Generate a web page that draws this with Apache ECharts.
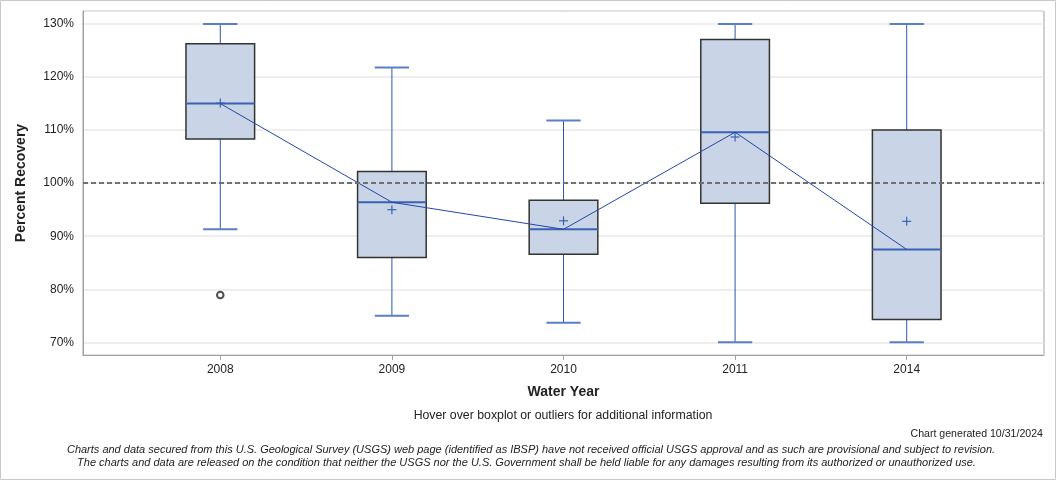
<!DOCTYPE html>
<html><head><meta charset="utf-8">
<script src="https://cdn.jsdelivr.net/npm/echarts@6/dist/echarts.min.js"></script>
<style>html,body{margin:0;padding:0;background:#fff}#c{width:1056px;height:480px}</style>
</head><body><div id="c"></div>
<script>
const categories = ['2008', '2009', '2010', '2011', '2014'];
const whiskerLow = [91.3, 75.0, 73.7, 70.0, 70.0];
const q1 = [108.3, 86.0, 86.6, 96.2, 74.3];
const median = [115.0, 96.4, 91.3, 109.6, 87.5];
const q3 = [126.3, 102.2, 96.8, 127.1, 110.0];
const whiskerHigh = [130.0, 121.8, 111.8, 130.0, 130.0];
const mean = [115.1, 95.0, 92.9, 108.7, 92.8];
const outliers = [[0, 78.9]];
const yTickValues = [70, 80, 90, 100, 110, 120, 130];
const referenceLine = 100;

const FONT = "'Liberation Sans', Arial, sans-serif";
const chart = echarts.init(document.getElementById('c'), null, { renderer: 'canvas' });
const xIdx = categories.map((c, i) => i);
const boxData = xIdx.map(i => [i, whiskerLow[i], q1[i], median[i], q3[i], whiskerHigh[i], mean[i]]);

function renderBox(params, api) {
  const i = api.value(0);
  const pLo = api.coord([i, api.value(1)]);
  const pQ1 = api.coord([i, api.value(2)]);
  const pMed = api.coord([i, api.value(3)]);
  const pQ3 = api.coord([i, api.value(4)]);
  const pHi = api.coord([i, api.value(5)]);
  const pMean = api.coord([i, api.value(6)]);
  const half = api.size([0.4, 0])[0] / 2;
  const cap = api.size([0.2, 0])[0] / 2;
  const x = pMed[0];
  const blue = '#2d56b0';
  const capBlue = '#5a7fc4';
  const line = (x1, y1, x2, y2, stroke, w) => ({
    type: 'line', shape: { x1, y1, x2, y2 }, style: { stroke, lineWidth: w }
  });
  return {
    type: 'group',
    children: [
      line(x, pLo[1], x, pQ1[1], blue, 1),
      line(x, pQ3[1], x, pHi[1], blue, 1),
      line(x - cap, pLo[1], x + cap, pLo[1], capBlue, 2),
      line(x - cap, pHi[1], x + cap, pHi[1], capBlue, 2),
      { type: 'rect', shape: { x: x - half, y: pQ3[1], width: 2 * half, height: pQ1[1] - pQ3[1] },
        style: { fill: '#c9d5e6', stroke: '#333333', lineWidth: 1.5 } },
      line(x - half, pMed[1], x + half, pMed[1], '#3a62b4', 2),
      line(pMean[0] - 4.5, pMean[1], pMean[0] + 4.5, pMean[1], '#3a62b4', 1.2),
      line(pMean[0], pMean[1] - 4.5, pMean[0], pMean[1] + 4.5, '#3a62b4', 1.2)
    ]
  };
}

chart.setOption({
  animation: false,
  grid: { left: 83, right: 12, top: 11, bottom: 125, show: true, borderColor: '#a0a0a0', borderWidth: 1 },
  xAxis: {
    type: 'value', min: -0.8, max: 4.8,
    name: 'Water Year', nameLocation: 'middle', nameGap: 30,
    nameTextStyle: { fontFamily: FONT, fontSize: 14, fontWeight: 'bold', color: '#222' },
    axisLine: { show: true, onZero: false, lineStyle: { color: '#a0a0a0' } },
    axisTick: { show: true, length: 5, customValues: xIdx, lineStyle: { color: '#a0a0a0' } },
    axisLabel: { customValues: xIdx, formatter: v => categories[Math.round(v)] || '', margin: 9,
      fontFamily: FONT, fontSize: 12, color: '#222' },
    splitLine: { show: false }
  },
  yAxis: {
    type: 'value', min: 67.61, max: 132.45,
    name: 'Percent Recovery', nameLocation: 'middle', nameGap: 55,
    nameTextStyle: { fontFamily: FONT, fontSize: 14, fontWeight: 'bold', color: '#222' },
    axisLine: { show: true, onZero: false, lineStyle: { color: '#a0a0a0' } },
    axisTick: { show: false },
    axisLabel: { customValues: yTickValues, formatter: v => Math.round(v) + '%', margin: 9,
      fontFamily: FONT, fontSize: 12, color: '#222' },
    splitLine: { show: true, lineStyle: { color: '#e8e8e8', width: 1.5 } }
  },
  series: [
    {
      type: 'line', data: xIdx.map(i => [i, median[i]]), symbol: 'none', z: 3,
      lineStyle: { color: '#2346a8', width: 1 },
      markLine: {
        silent: true, symbol: 'none', label: { show: false },
        lineStyle: { color: '#707070', type: [5, 3], width: 2 },
        data: [{ yAxis: referenceLine }]
      }
    },
    { type: 'custom', data: boxData, renderItem: renderBox, z: 2, encode: { x: 0, y: [1, 2, 3, 4, 5] } },
    { type: 'scatter', data: outliers, symbol: 'emptyCircle', symbolSize: 6.5, z: 4,
      itemStyle: { color: '#222', borderColor: '#222', borderWidth: 1 } }
  ],
  graphic: [
    { type: 'rect', shape: { x: 0.5, y: 0.5, width: 1055, height: 479 }, style: { fill: 'none', stroke: '#c8c8c8', lineWidth: 1 }, silent: true },
    { type: 'text', x: 563, y: 416, style: { text: 'Hover over boxplot or outliers for additional information', fontFamily: FONT, fontSize: 12.3, fill: '#222', align: 'center', verticalAlign: 'middle' } },
    { type: 'text', x: 1043, y: 434, style: { text: 'Chart generated 10/31/2024', fontFamily: FONT, fontSize: 10.6, fill: '#222', align: 'right', verticalAlign: 'middle' } },
    { type: 'text', x: 531, y: 450, style: { text: 'Charts and data secured from this U.S. Geological Survey (USGS) web page (identified as IBSP) have not received official USGS approval and as such are provisional and subject to revision.', fontFamily: FONT, fontSize: 11, fontStyle: 'italic', fill: '#222', align: 'center', verticalAlign: 'middle' } },
    { type: 'text', x: 526.5, y: 463, style: { text: 'The charts and data are released on the condition that neither the USGS nor the U.S. Government shall be held liable for any damages resulting from its authorized or unauthorized use.', fontFamily: FONT, fontSize: 11, fontStyle: 'italic', fill: '#222', align: 'center', verticalAlign: 'middle' } }
  ]
});
</script></body></html>
